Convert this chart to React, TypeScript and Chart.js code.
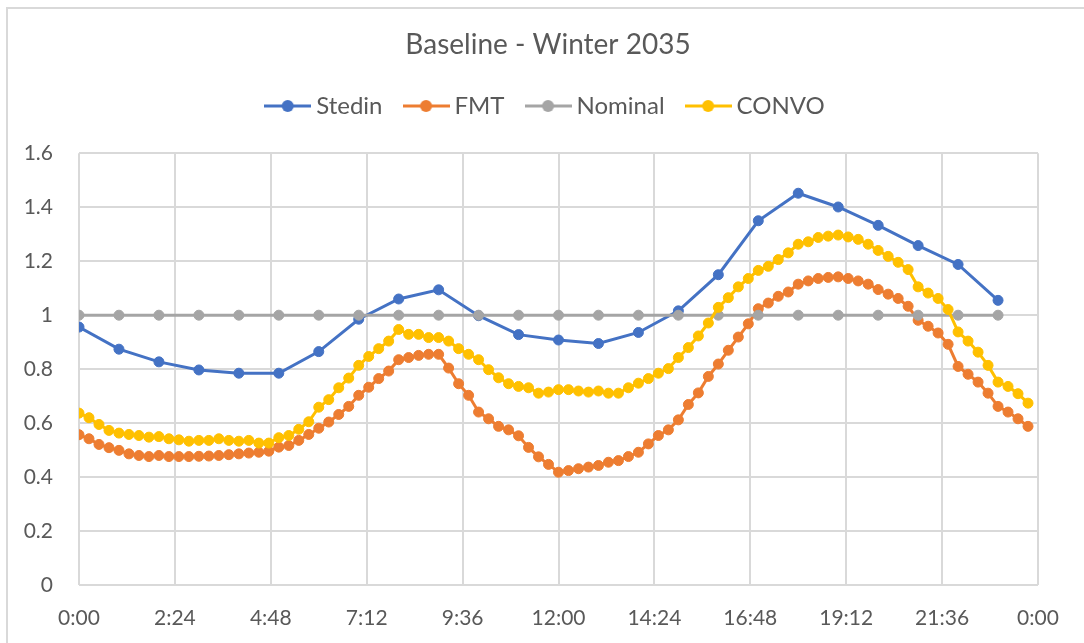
import React, { useEffect, useRef } from 'react';
import { Chart, registerables } from 'chart.js';

Chart.register(...registerables);

const chartTitle = 'Baseline - Winter 2035';
const seriesNames = ['Stedin', 'FMT', 'Nominal', 'CONVO'];
const seriesColors = ['#4472C4', '#ED7D31', '#A5A5A5', '#FFC000'];

const hourTimes = `0:00 1:00 2:00 3:00 4:00 5:00 6:00 7:00 8:00 9:00 10:00 11:00
12:00 13:00 14:00 15:00 16:00 17:00 18:00 19:00 20:00 21:00 22:00 23:00`.split(/\s+/);

const quarterTimes = `0:00 0:15 0:30 0:45 1:00 1:15 1:30 1:45 2:00 2:15 2:30 2:45
3:00 3:15 3:30 3:45 4:00 4:15 4:30 4:45 5:00 5:15 5:30 5:45
6:00 6:15 6:30 6:45 7:00 7:15 7:30 7:45 8:00 8:15 8:30 8:45
9:00 9:15 9:30 9:45 10:00 10:15 10:30 10:45 11:00 11:15 11:30 11:45
12:00 12:15 12:30 12:45 13:00 13:15 13:30 13:45 14:00 14:15 14:30 14:45
15:00 15:15 15:30 15:45 16:00 16:15 16:30 16:45 17:00 17:15 17:30 17:45
18:00 18:15 18:30 18:45 19:00 19:15 19:30 19:45 20:00 20:15 20:30 20:45
21:00 21:15 21:30 21:45 22:00 22:15 22:30 22:45 23:00 23:15 23:30 23:45`.split(/\s+/);

const stedin = [
  0.956, 0.874, 0.827, 0.797, 0.785, 0.785, 0.865, 0.985, 1.06, 1.094, 0.998, 0.928,
  0.908, 0.895, 0.936, 1.016, 1.15, 1.35, 1.452, 1.401, 1.333, 1.258, 1.188, 1.055,
];

const nominal = [
  1, 1, 1, 1, 1, 1, 1, 1, 1, 1, 1, 1,
  1, 1, 1, 1, 1, 1, 1, 1, 1, 1, 1, 1,
];

const fmt = [
  0.557, 0.542, 0.521, 0.509, 0.499, 0.486, 0.48, 0.476, 0.48, 0.476, 0.476, 0.476,
  0.477, 0.478, 0.48, 0.483, 0.486, 0.489, 0.492, 0.496, 0.511, 0.517, 0.536, 0.558,
  0.581, 0.604, 0.632, 0.662, 0.703, 0.733, 0.765, 0.793, 0.835, 0.843, 0.851, 0.855,
  0.855, 0.804, 0.746, 0.703, 0.641, 0.616, 0.588, 0.575, 0.553, 0.51, 0.475, 0.447,
  0.418, 0.424, 0.431, 0.437, 0.443, 0.455, 0.461, 0.476, 0.492, 0.523, 0.554, 0.575,
  0.612, 0.669, 0.712, 0.773, 0.819, 0.87, 0.919, 0.968, 1.024, 1.045, 1.07, 1.086,
  1.115, 1.127, 1.136, 1.14, 1.142, 1.136, 1.127, 1.115, 1.095, 1.078, 1.062, 1.033,
  0.981, 0.959, 0.934, 0.892, 0.81, 0.781, 0.752, 0.711, 0.662, 0.641, 0.616, 0.588,
];

const convo = [
  0.637, 0.62, 0.595, 0.573, 0.563, 0.558, 0.554, 0.548, 0.55, 0.542, 0.538, 0.533,
  0.536, 0.536, 0.542, 0.536, 0.533, 0.536, 0.526, 0.526, 0.546, 0.554, 0.577, 0.605,
  0.659, 0.687, 0.731, 0.767, 0.814, 0.847, 0.876, 0.904, 0.947, 0.929, 0.929, 0.917,
  0.917, 0.904, 0.876, 0.855, 0.835, 0.798, 0.768, 0.746, 0.736, 0.731, 0.711, 0.715,
  0.724, 0.724, 0.719, 0.715, 0.719, 0.711, 0.711, 0.731, 0.748, 0.765, 0.785, 0.802,
  0.843, 0.88, 0.923, 0.971, 1.029, 1.065, 1.105, 1.136, 1.166, 1.181, 1.206, 1.231,
  1.263, 1.272, 1.288, 1.293, 1.297, 1.29, 1.281, 1.263, 1.24, 1.218, 1.196, 1.169,
  1.105, 1.082, 1.062, 1.021, 0.938, 0.904, 0.863, 0.814, 0.752, 0.736, 0.709, 0.674,
];

const xTickLabels = ['0:00', '2:24', '4:48', '7:12', '9:36', '12:00', '14:24', '16:48', '19:12', '21:36', '0:00'];
const yTickLabels = ['0', '0.2', '0.4', '0.6', '0.8', '1', '1.2', '1.4', '1.6'];

const TEXT = '#595959';
const GRID = '#d9d9d9';
const FONT = 'Lato';

const toHours = (t: string) => {
  const [h, m] = t.split(':').map(Number);
  return h + m / 60;
};

const pairs = (times: string[], values: number[]) =>
  values.map((v, i) => ({ x: toHours(times[i]), y: v }));

function makeMarker(color: string) {
  const c = document.createElement('canvas');
  c.width = 47;
  c.height = 14;
  const ctx = c.getContext('2d')!;
  ctx.strokeStyle = color;
  ctx.lineWidth = 3;
  ctx.beginPath();
  ctx.moveTo(0, 7);
  ctx.lineTo(47, 7);
  ctx.stroke();
  ctx.fillStyle = color;
  ctx.beginPath();
  ctx.arc(23.5, 7, 6, 0, Math.PI * 2);
  ctx.fill();
  return c;
}

export default function App() {
  const ref = useRef<HTMLCanvasElement>(null);

  useEffect(() => {
    if (!ref.current) return;
    Chart.defaults.font.family = FONT;
    const markers = seriesColors.map((c) => makeMarker(c));
    const seriesData = [
      pairs(hourTimes, stedin),
      pairs(quarterTimes, fmt),
      pairs(hourTimes, nominal),
      pairs(quarterTimes, convo),
    ];
    const orders = [4, 3, 2, 1];
    const chart = new Chart(ref.current, {
      type: 'line',
      data: {
        datasets: seriesNames.map((name, i) => ({
          label: name,
          data: seriesData[i],
          borderColor: seriesColors[i],
          backgroundColor: seriesColors[i],
          pointBackgroundColor: seriesColors[i],
          pointBorderColor: seriesColors[i],
          pointRadius: 5,
          pointBorderWidth: 1,
          borderWidth: 3,
          tension: 0,
          fill: false,
          order: orders[i],
          xAxisID: 'x',
          yAxisID: 'y',
        })),
      },
      options: {
        animation: false,
        responsive: false,
        devicePixelRatio: 1,
        layout: { padding: 0 },
        plugins: {
          tooltip: { enabled: false },
          title: {
            display: true,
            text: chartTitle,
            color: TEXT,
            font: { size: 28, weight: 'normal', family: FONT },
            padding: { top: 28.2, bottom: 5.2 },
          },
          legend: {
            display: true,
            position: 'top',
            labels: {
              usePointStyle: true,
              pointStyleWidth: 33,
              padding: 27,
              color: TEXT,
              font: { size: 24, family: FONT },
              generateLabels: (ch: any) =>
                ch.data.datasets.map((ds: any, i: number) => ({
                  text: ds.label,
                  fillStyle: seriesColors[i],
                  strokeStyle: seriesColors[i],
                  lineWidth: 0,
                  pointStyle: markers[i],
                  hidden: false,
                  datasetIndex: i,
                  fontColor: TEXT,
                })),
            },
          },
        },
        scales: {
          x: {
            type: 'linear',
            axis: 'x',
            position: 'bottom',
            min: 0,
            max: 24,
            afterFit: (s: any) => {
              s.height = 58;
            },
            ticks: {
              stepSize: 2.4,
              autoSkip: false,
              maxRotation: 0,
              padding: 21,
              color: TEXT,
              font: { size: 21, family: FONT },
              callback: (_v: any, i: number) => xTickLabels[i],
            },
            grid: { color: GRID, lineWidth: 2, drawTicks: false },
            border: { display: false },
          },
          y: {
            type: 'linear',
            axis: 'y',
            position: 'left',
            min: 0,
            max: 1.6,
            afterFit: (s: any) => {
              s.width = 79;
            },
            ticks: {
              stepSize: 0.2,
              padding: 26,
              color: TEXT,
              font: { size: 21, family: FONT },
              callback: (_v: any, i: number) => yTickLabels[i],
            },
            grid: { color: GRID, lineWidth: 2, drawTicks: false },
            border: { display: false },
          },
          xTop: {
            type: 'linear',
            axis: 'x',
            position: 'top',
            display: true,
            afterFit: (s: any) => {
              s.height = 25.3;
            },
            ticks: { display: false },
            grid: { display: false, drawTicks: false },
            border: { display: false },
          },
          yRight: {
            type: 'linear',
            axis: 'y',
            position: 'right',
            display: true,
            afterFit: (s: any) => {
              s.width = 58;
            },
            ticks: { display: false },
            grid: { display: false, drawTicks: false },
            border: { display: false },
          },
        },
      } as any,
    });
    return () => chart.destroy();
  }, []);

  return (
    <div
      style={{
        position: 'absolute',
        left: 0,
        top: 0,
        width: 1084,
        height: 643,
        overflow: 'hidden',
        background: '#ffffff',
      }}
    >
      <div
        style={{
          position: 'absolute',
          left: 6,
          top: 7,
          width: 1200,
          height: 800,
          border: '2px solid #d9d9d9',
          boxSizing: 'border-box',
        }}
      />
      <canvas
        ref={ref}
        width={1096}
        height={643}
        style={{ position: 'absolute', left: 0, top: 0, width: 1096, height: 643 }}
      />
    </div>
  );
}
